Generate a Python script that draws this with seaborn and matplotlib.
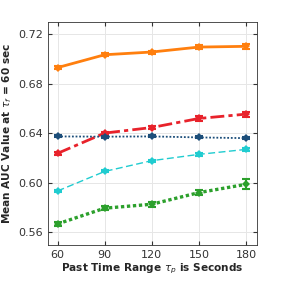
import pandas as pd
import matplotlib.pyplot as plt
import seaborn as sns

# values
past_range = [60, 90, 120, 150, 180]
orange_auc = [0.6929, 0.7033, 0.7055, 0.7095, 0.7101]
red_auc = [0.6236, 0.6400, 0.6445, 0.6518, 0.6553]
navy_auc = [0.6373, 0.6371, 0.6373, 0.6365, 0.6359]
cyan_auc = [0.5932, 0.6090, 0.6177, 0.6228, 0.6268]
green_auc = [0.5666, 0.5793, 0.5825, 0.5919, 0.5986]

orange_err = [0.0012, 0.0012, 0.0012, 0.0018, 0.0018]
red_err = [0.0012, 0.0012, 0.0015, 0.0022, 0.0020]
navy_err = [0.0008, 0.0008, 0.0008, 0.0008, 0.0008]
cyan_err = [0.0008, 0.0008, 0.0008, 0.0012, 0.0012]
green_err = [0.0015, 0.0015, 0.0020, 0.0022, 0.0040]

series = [
    (orange_auc, orange_err, '#FF7F0E', '-', 2.0),
    (red_auc, red_err, '#E8222B', (0, (5, 1.5, 1.5, 1.5)), 2.0),
    (navy_auc, navy_err, '#1C4E7A', (0, (1, 1)), 1.3),
    (cyan_auc, cyan_err, '#20CCD0', (0, (5, 2.5)), 1.0),
    (green_auc, green_err, '#2CA02C', (0, (1, 0.8)), 2.4),
]

sns.set_style('white')
plt.rcParams['font.family'] = ['DejaVu Sans']

fig = plt.figure(figsize=(2.83, 2.83), dpi=100)
ax = fig.add_axes([0.17, 0.134, 0.738, 0.788])

for vals, errs, color, ls, lw in series:
    df = pd.DataFrame({'x': past_range, 'y': vals})
    sns.lineplot(data=df, x='x', y='y', ax=ax, color=color, linestyle=ls,
                 linewidth=lw, marker='D', markersize=4, markeredgewidth=0)
    ax.errorbar(past_range, vals, yerr=errs, fmt='none', ecolor=color,
                elinewidth=1.5, capsize=3, capthick=1.5)

ax.set_xlim(54, 187)
ax.set_ylim(0.5495, 0.7297)
ax.set_xticks(past_range)
ax.set_yticks([0.56, 0.60, 0.64, 0.68, 0.72])
ax.set_yticklabels(['0.56', '0.60', '0.64', '0.68', '0.72'])
ax.grid(True, color='#E6E6E6', linewidth=0.7)
ax.tick_params(direction='in', length=3, labelsize=8, colors='#333333',
               top=True, right=True, left=True, bottom=True)
for s in ax.spines.values():
    s.set_color('#333333')
    s.set_linewidth(0.6)
ax.set_xlabel(r'Past Time Range $\tau_p$ is Seconds', fontsize=7.6,
              fontweight='bold', color='#262626', labelpad=1)
ax.set_ylabel(r'Mean AUC Value at $\tau_f$ = 60 sec', fontsize=7.6,
              fontweight='bold', color='#262626', labelpad=3)

fig.savefig('out.png', dpi=100)
